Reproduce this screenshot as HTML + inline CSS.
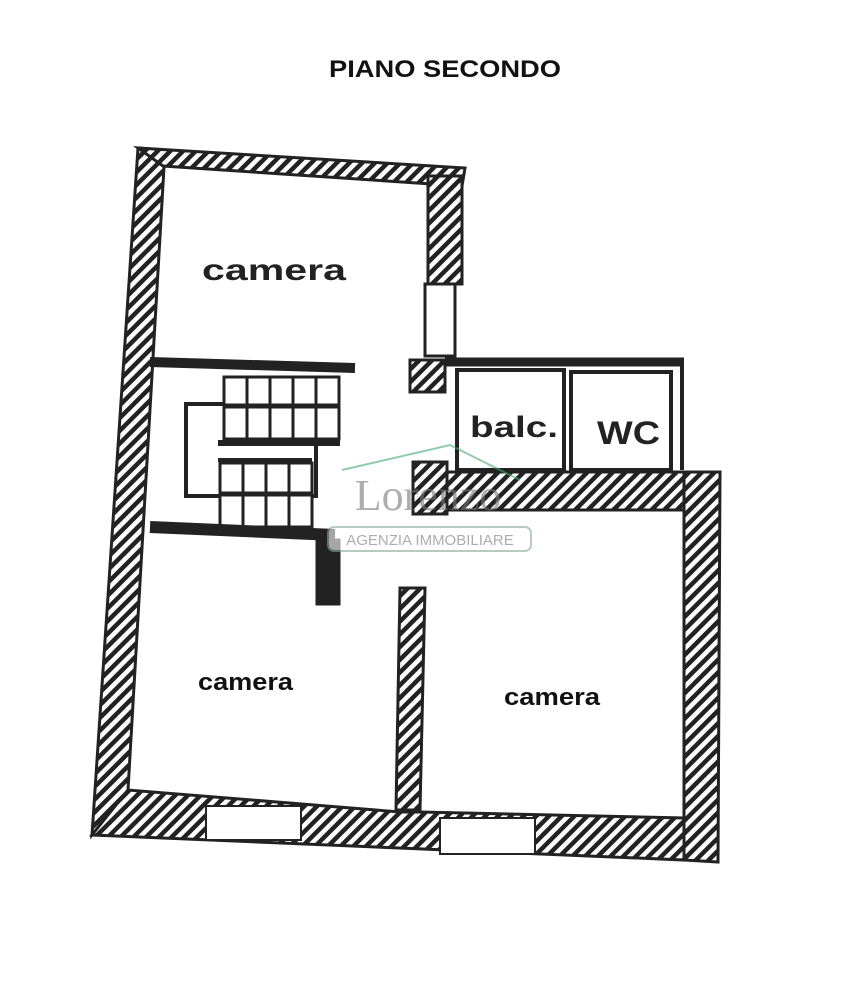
<!DOCTYPE html>
<html><head><meta charset="utf-8"><style>
html,body{margin:0;padding:0;background:#fff;}
body{width:867px;height:1000px;overflow:hidden;position:relative;}
</style></head><body>
<svg width="867" height="1000" viewBox="0 0 867 1000" xmlns="http://www.w3.org/2000/svg">
<defs>
<pattern id="h" patternUnits="userSpaceOnUse" width="9" height="9" patternTransform="rotate(-45)">
<rect width="9" height="9" fill="#fff"/><rect width="9" height="4.5" fill="#222"/>
</pattern>
</defs>
<rect width="867" height="1000" fill="#fff"/>
<text x="445" y="77" font-family="Liberation Sans, sans-serif" font-weight="bold" font-size="24" text-anchor="middle" fill="#111" textLength="232" lengthAdjust="spacingAndGlyphs">PIANO SECONDO</text>
<g stroke="#222" stroke-width="3">
<polygon points="138,148 165,150 128,790 92,835" fill="url(#h)"/>
<polygon points="138,148 465,168 462,186 163,166" fill="url(#h)"/>
<rect x="428" y="176" width="34" height="108" fill="url(#h)"/>
<rect x="425" y="284" width="30" height="72" fill="#fff"/>
<line x1="150" y1="362" x2="355" y2="368" stroke-width="10"/>
<rect x="410" y="360" width="35" height="32" fill="url(#h)"/>
<line x1="445" y1="362" x2="684" y2="362" stroke-width="9"/>
<rect x="457" y="370" width="107" height="100" fill="#fff" stroke-width="4"/>
<rect x="571" y="372" width="100" height="98" fill="#fff" stroke-width="4"/>
<line x1="682" y1="360" x2="682" y2="470" stroke-width="4"/>
<rect x="413" y="462" width="34" height="52" fill="url(#h)"/>
<polygon points="447,472 720,472 718,510 447,510" fill="url(#h)"/>
<polygon points="684,472 720,472 718,862 684,860" fill="url(#h)"/>
<rect x="186" y="404" width="130" height="92" fill="none" stroke-width="4"/>
<g fill="#fff" stroke-width="3">
<rect x="224" y="377" width="23" height="28"/><rect x="247" y="377" width="23" height="28"/><rect x="270" y="377" width="23" height="28"/><rect x="293" y="377" width="23" height="28"/><rect x="316" y="377" width="23" height="28"/>
<rect x="224" y="407" width="23" height="32"/><rect x="247" y="407" width="23" height="32"/><rect x="270" y="407" width="23" height="32"/><rect x="293" y="407" width="23" height="32"/><rect x="316" y="407" width="23" height="32"/>
<rect x="220" y="463" width="23" height="30"/><rect x="243" y="463" width="23" height="30"/><rect x="266" y="463" width="23" height="30"/><rect x="289" y="463" width="23" height="30"/>
<rect x="220" y="495" width="23" height="32"/><rect x="243" y="495" width="23" height="32"/><rect x="266" y="495" width="23" height="32"/><rect x="289" y="495" width="23" height="32"/>
</g>
<line x1="218" y1="443" x2="340" y2="443" stroke-width="6"/>
<line x1="218" y1="460" x2="312" y2="460" stroke-width="4"/>
<line x1="150" y1="527" x2="335" y2="535" stroke-width="12"/>
<rect x="317" y="540" width="22" height="64" fill="#222"/>
<polygon points="400,588 425,588 420,810 396,810" fill="url(#h)"/>
<polygon points="92,835 128,790 400,812 420,812 684,818 684,860 92,835" fill="url(#h)"/>
<rect x="206" y="806" width="95" height="34" fill="#fff" stroke-width="2"/>
<rect x="440" y="818" width="95" height="36" fill="#fff" stroke-width="2"/>
</g>
<text x="202" y="280" font-family="Liberation Sans, sans-serif" font-weight="bold" font-size="30" fill="#222" textLength="144" lengthAdjust="spacingAndGlyphs">camera</text>
<text x="470" y="437" font-family="Liberation Sans, sans-serif" font-weight="bold" font-size="30" fill="#222" textLength="88" lengthAdjust="spacingAndGlyphs">balc.</text>
<text x="597" y="444" font-family="Liberation Sans, sans-serif" font-weight="bold" font-size="32" fill="#222" textLength="63" lengthAdjust="spacingAndGlyphs">WC</text>
<text x="198" y="690" font-family="Liberation Sans, sans-serif" font-weight="bold" font-size="24" fill="#111" textLength="95" lengthAdjust="spacingAndGlyphs">camera</text>
<text x="504" y="705" font-family="Liberation Sans, sans-serif" font-weight="bold" font-size="24" fill="#111" textLength="96" lengthAdjust="spacingAndGlyphs">camera</text>
<g opacity="0.6">
<polyline points="342,470 450,445 520,480" fill="none" stroke="#4a7" stroke-width="2"/>
<text x="428" y="510" font-family="Liberation Serif, serif" font-size="44" text-anchor="middle" fill="#777">Lorenzo</text>
<rect x="328" y="527" width="203" height="24" rx="6" fill="#fff" stroke="#8a9" stroke-width="2"/>
<text x="430" y="545" font-family="Liberation Sans, sans-serif" font-size="15" text-anchor="middle" fill="#777">AGENZIA IMMOBILIARE</text>
</g>
</svg>
</body></html>
